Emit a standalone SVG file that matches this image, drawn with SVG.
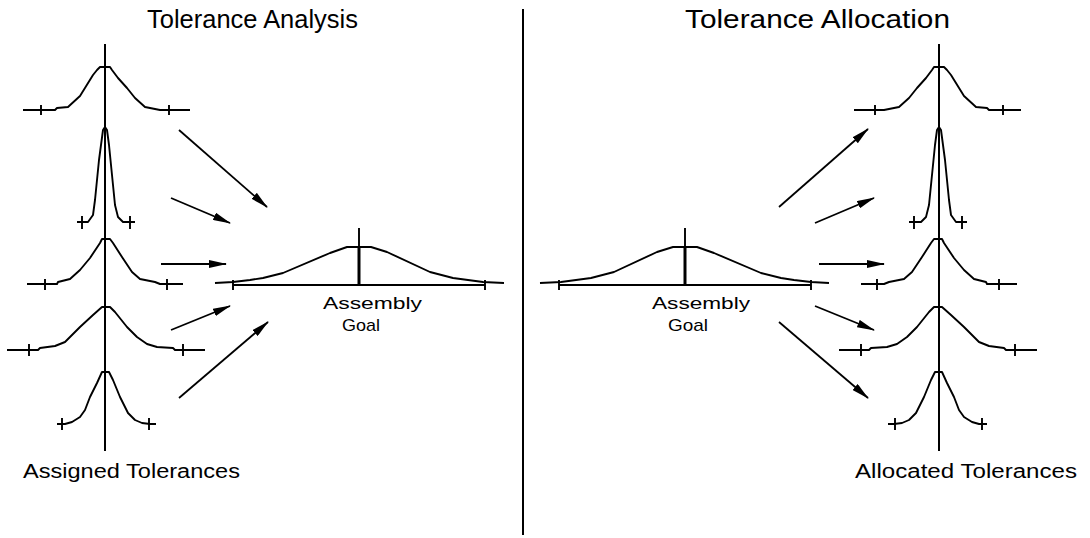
<svg xmlns="http://www.w3.org/2000/svg" width="1090" height="538" viewBox="0 0 1090 538">
<style>
.ln{fill:none;stroke:#000;stroke-width:1.9;stroke-linejoin:round;stroke-linecap:butt}
.ax{fill:none;stroke:#000;stroke-width:2}
.thick{fill:none;stroke:#000;stroke-width:3}
.arr{fill:none;stroke:#000;stroke-width:1.8;marker-end:url(#ah)}
.t{font-family:"Liberation Sans","DejaVu Sans",sans-serif;fill:#000}
.title{font-size:25px}
.lab{font-size:20px}
.asm{font-size:17px}
</style>
<defs>
<marker id="ah" markerWidth="18" markerHeight="8" refX="17" refY="4" orient="auto" markerUnits="userSpaceOnUse">
<path d="M0,0 L18,4 L0,8 Z" fill="#000"/>
</marker>
</defs>
<rect width="1090" height="538" fill="#fff"/>
<g id="divider"><path class="ax" d="M523,9 V535"/></g>
<g id="titles">
<text class="t title" x="147" y="28" textLength="211" lengthAdjust="spacingAndGlyphs">Tolerance Analysis</text>
<text class="t title" x="685" y="28" textLength="265" lengthAdjust="spacingAndGlyphs">Tolerance Allocation</text>
</g>
<g id="analysis">
<g id="analysis-axis"><path class="ax" d="M105,44 V451"/></g>
<g id="assigned-1"><path class="ln" d="M23,110 H55 L57,108 L68,107 L80,96 L93,75 L97,70 L100,67 H110 L112,70 L118,78 L127,88 L135,98 L145,107 L155,109 L160,110 H190"/><path class="ln" d="M41,105 V115 M169,105 V115"/></g>
<g id="assigned-2"><path class="ln" d="M77,222 H88 L93,215 L95,200 L97,180 L99,160 L101,145 L103,130 L105,127 L107,130 L109,145 L111,165 L113,185 L115,205 L118,217 L123,222 H135"/><path class="ln" d="M82,216 V229 M130,216 V229"/></g>
<g id="assigned-3"><path class="ln" d="M27,284 H57 L58,282 L70,279 L80,270 L90,258 L100,243 L102,239 H110 L113,243 L122,257 L132,272 L140,279 L155,282 L160,284 H183"/><path class="ln" d="M45,279 V290 M167,279 V290"/></g>
<g id="assigned-4"><path class="ln" d="M7,350 H38 L40,348 L55,346 L65,342 L80,327 L93,315 L102,307 H110 L115,312 L127,327 L137,337 L147,344 L157,347 L173,348 L175,350 H205"/><path class="ln" d="M29,344 V356 M183,344 V356"/></g>
<g id="assigned-5"><path class="ln" d="M57,424 H65 L72,422 L80,417 L85,410 L90,397 L97,383 L102,372 H109 L113,380 L120,397 L128,413 L135,420 L142,423 L150,424 H156"/><path class="ln" d="M62,418 V430 M149,418 V430"/></g>
<g id="assembly-goal-analysis"><path class="ln" d="M215,283 L233,282 L250,280 L263,278 L283,273 L330,253 L347,247 H371 L387,252 L430,272 L453,278 L483,282 L504,283"/><path class="ln" d="M233,285 H485 M233,280 V290 M485,280 V290 M359,228 V247"/><path class="thick" d="M359,247 V285"/>
<text class="t asm" x="323" y="309" textLength="99" lengthAdjust="spacingAndGlyphs">Assembly</text>
<text class="t asm" x="342" y="331" textLength="38" lengthAdjust="spacingAndGlyphs">Goal</text></g>
<text class="t lab" x="23" y="478" textLength="217" lengthAdjust="spacingAndGlyphs">Assigned Tolerances</text>
</g>
<g id="allocation">
<g transform="matrix(-1 0 0 1 1044 0)">
<g id="allocation-axis"><path class="ax" d="M105,44 V451"/></g>
<g id="allocated-1"><path class="ln" d="M23,110 H55 L57,108 L68,107 L80,96 L93,75 L97,70 L100,67 H110 L112,70 L118,78 L127,88 L135,98 L145,107 L155,109 L160,110 H190"/><path class="ln" d="M41,105 V115 M169,105 V115"/></g>
<g id="allocated-2"><path class="ln" d="M77,222 H88 L93,215 L95,200 L97,180 L99,160 L101,145 L103,130 L105,127 L107,130 L109,145 L111,165 L113,185 L115,205 L118,217 L123,222 H135"/><path class="ln" d="M82,216 V229 M130,216 V229"/></g>
<g id="allocated-3"><path class="ln" d="M27,284 H57 L58,282 L70,279 L80,270 L90,258 L100,243 L102,239 H110 L113,243 L122,257 L132,272 L140,279 L155,282 L160,284 H183"/><path class="ln" d="M45,279 V290 M167,279 V290"/></g>
<g id="allocated-4"><path class="ln" d="M7,350 H38 L40,348 L55,346 L65,342 L80,327 L93,315 L102,307 H110 L115,312 L127,327 L137,337 L147,344 L157,347 L173,348 L175,350 H205"/><path class="ln" d="M29,344 V356 M183,344 V356"/></g>
<g id="allocated-5"><path class="ln" d="M57,424 H65 L72,422 L80,417 L85,410 L90,397 L97,383 L102,372 H109 L113,380 L120,397 L128,413 L135,420 L142,423 L150,424 H156"/><path class="ln" d="M62,418 V430 M149,418 V430"/></g>
<g id="assembly-goal-allocation-shape"><path class="ln" d="M215,283 L233,282 L250,280 L263,278 L283,273 L330,253 L347,247 H371 L387,252 L430,272 L453,278 L483,282 L504,283"/><path class="ln" d="M233,285 H485 M233,280 V290 M485,280 V290 M359,228 V247"/><path class="thick" d="M359,247 V285"/></g>
</g>
<g id="assembly-goal-allocation-label">
<text class="t asm" x="652" y="309" textLength="98" lengthAdjust="spacingAndGlyphs">Assembly</text>
<text class="t asm" x="668" y="331" textLength="40" lengthAdjust="spacingAndGlyphs">Goal</text></g>
<text class="t lab" x="855" y="478" textLength="222" lengthAdjust="spacingAndGlyphs">Allocated Tolerances</text>
</g>
<g id="connectors">
<path class="arr" d="M179,130 L267,207"/>
<path class="arr" d="M171,198 L230,223"/>
<path class="arr" d="M161,264 L226,264"/>
<path class="arr" d="M171,330 L230,306"/>
<path class="arr" d="M179,398 L268,322"/>
<path class="arr" d="M779,207 L868,129"/>
<path class="arr" d="M815,223 L874,198"/>
<path class="arr" d="M819,264 L884,264"/>
<path class="arr" d="M815,306 L874,330"/>
<path class="arr" d="M779,322 L868,398"/>
</g>
</svg>
